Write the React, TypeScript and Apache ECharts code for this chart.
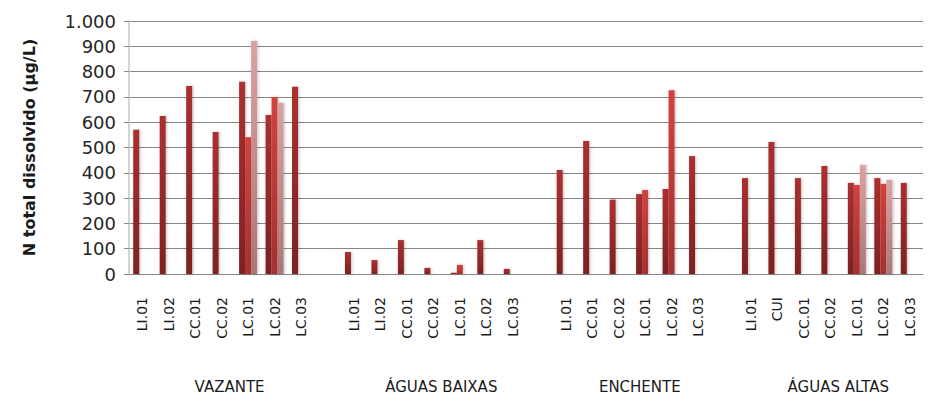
import React, { useEffect, useRef } from "react";
import * as echarts from "echarts";

// Grouped categories (campaign -> stations); '' marks the empty spacer slot between groups
const groups = ["VAZANTE", "ÁGUAS BAIXAS", "ENCHENTE", "ÁGUAS ALTAS"];
const stationsVazante = ["LI.01", "LI.02", "CC.01", "CC.02", "LC.01", "LC.02", "LC.03"];
const stationsBaixas = ["LI.01", "LI.02", "CC.01", "CC.02", "LC.01", "LC.02", "LC.03"];
const stationsEnchente = ["LI.01", "CC.01", "CC.02", "LC.01", "LC.02", "LC.03"];
const stationsAltas = ["LI.01", "CUI", "CC.01", "CC.02", "LC.01", "LC.02", "LC.03"];

// Series values per group (null = no bar)
const s1Vazante = [570, 625, 743, 561, 760, 628, 740];
const s2Vazante = [null, null, null, null, 541, 700, null];
const s3Vazante = [null, null, null, null, 921, 676, null];

const s1Baixas = [87, 55, 134, 24, 5, 134, 20];
const s2Baixas = [null, null, null, null, 36, null, null];
const s3Baixas = [null, null, null, null, null, null, null];

const s1Enchente = [411, 526, 294, 316, 336, 466];
const s2Enchente = [null, null, null, 332, 726, null];
const s3Enchente = [null, null, null, null, null, null];

const s1Altas = [379, 522, 379, 427, 360, 379, 360];
const s2Altas = [null, null, null, null, 352, 356, null];
const s3Altas = [null, null, null, null, 431, 372, null];

const yTicks = [0, 100, 200, 300, 400, 500, 600, 700, 800, 900, 1000];

const stationLists = [stationsVazante, stationsBaixas, stationsEnchente, stationsAltas];
const s1Lists = [s1Vazante, s1Baixas, s1Enchente, s1Altas];
const s2Lists = [s2Vazante, s2Baixas, s2Enchente, s2Altas];
const s3Lists = [s3Vazante, s3Baixas, s3Enchente, s3Altas];

function build() {
  const cats: string[] = [];
  const d1: (number | null)[] = [];
  const d2: (number | null)[] = [];
  const d3: (number | null)[] = [];
  const spans: { name: string; first: number; last: number }[] = [];
  groups.forEach((g, gi) => {
    const first = cats.length;
    stationLists[gi].forEach((st, i) => {
      cats.push(g + "|" + st);
      d1.push(s1Lists[gi][i]);
      d2.push(s2Lists[gi][i]);
      d3.push(s3Lists[gi][i]);
    });
    spans.push({ name: g, first, last: cats.length - 1 });
    if (gi < groups.length - 1) {
      cats.push(g + "|gap");
      d1.push(null);
      d2.push(null);
      d3.push(null);
    }
  });
  return { cats, d1, d2, d3, spans };
}

const FONT = "DejaVu Sans";

function grad(top: string, bottom: string) {
  return new echarts.graphic.LinearGradient(0, 0, 0, 1, [
    { offset: 0, color: top },
    { offset: 1, color: bottom },
  ]);
}

export default function App() {
  const ref = useRef<HTMLDivElement>(null);
  useEffect(() => {
    if (!ref.current) return;
    const chart = echarts.init(ref.current, undefined, { renderer: "svg" });
    const { cats, d1, d2, d3, spans } = build();
    const barCommon = { type: "bar" as const, barWidth: 6, barGap: "0%" };
    const shadow = { shadowBlur: 3, shadowColor: "rgba(0,0,0,0.25)", shadowOffsetX: 1 };
    chart.setOption({
      animation: false,
      grid: { left: 129, right: 13, top: 21, bottom: 128, containLabel: false },
      xAxis: {
        type: "category",
        data: cats,
        axisLine: { show: true, lineStyle: { color: "#868686", width: 1 } },
        axisTick: { show: false },
        axisLabel: {
          interval: 0,
          rotate: 90,
          margin: 23,
          fontFamily: FONT,
          fontSize: 14,
          color: "#1a1a1a",
          formatter: (v: string) => {
            const p = v.split("|")[1];
            return p === "gap" ? "" : p;
          },
        },
        splitLine: { show: false },
      },
      yAxis: {
        type: "value",
        min: yTicks[0],
        max: yTicks[yTicks.length - 1],
        interval: 100,
        name: "N total dissolvido (µg/L)",
        nameLocation: "middle",
        nameGap: 92,
        nameRotate: 90,
        nameTextStyle: { fontFamily: FONT, fontSize: 16, fontWeight: "bold", color: "#1a1a1a" },
        axisLine: { show: true, lineStyle: { color: "#d4d4d4", width: 2 } },
        axisTick: { show: true, length: 5, lineStyle: { color: "#868686" } },
        axisLabel: {
          margin: 13,
          fontFamily: FONT,
          fontSize: 18,
          color: "#262626",
          formatter: (v: number) => (v >= 1000 ? v.toLocaleString("de-DE") : String(v)),
        },
        splitLine: { show: true, lineStyle: { color: "#868686", width: 1 } },
      },
      series: [
        { ...barCommon, name: "s1", data: d1, itemStyle: { color: grad("#ab3030", "#7d2222"), ...shadow } },
        { ...barCommon, name: "s2", data: d2, itemStyle: { color: grad("#d2433f", "#a53030"), ...shadow } },
        { ...barCommon, name: "s3", data: d3, itemStyle: { color: grad("#dba2a2", "#ad7676"), ...shadow } },
      ],
    });
    const p0 = chart.convertToPixel({ xAxisIndex: 0 }, 0) as number;
    const p1 = chart.convertToPixel({ xAxisIndex: 0 }, 1) as number;
    const step = p1 - p0;
    chart.setOption({
      graphic: spans.map((s) => ({
        type: "text",
        x: p0 + step * ((s.first + s.last) / 2 + 0.3),
        y: 387,
        style: {
          text: s.name,
          fontFamily: FONT,
          fontSize: 15,
          fill: "#1a1a1a",
          align: "center",
          verticalAlign: "middle",
        },
      })),
    });
    return () => chart.dispose();
  }, []);
  return (
    <div
      ref={ref}
      style={{ position: "fixed", left: 0, top: 0, width: 936, height: 402, background: "#fff" }}
    />
  );
}
